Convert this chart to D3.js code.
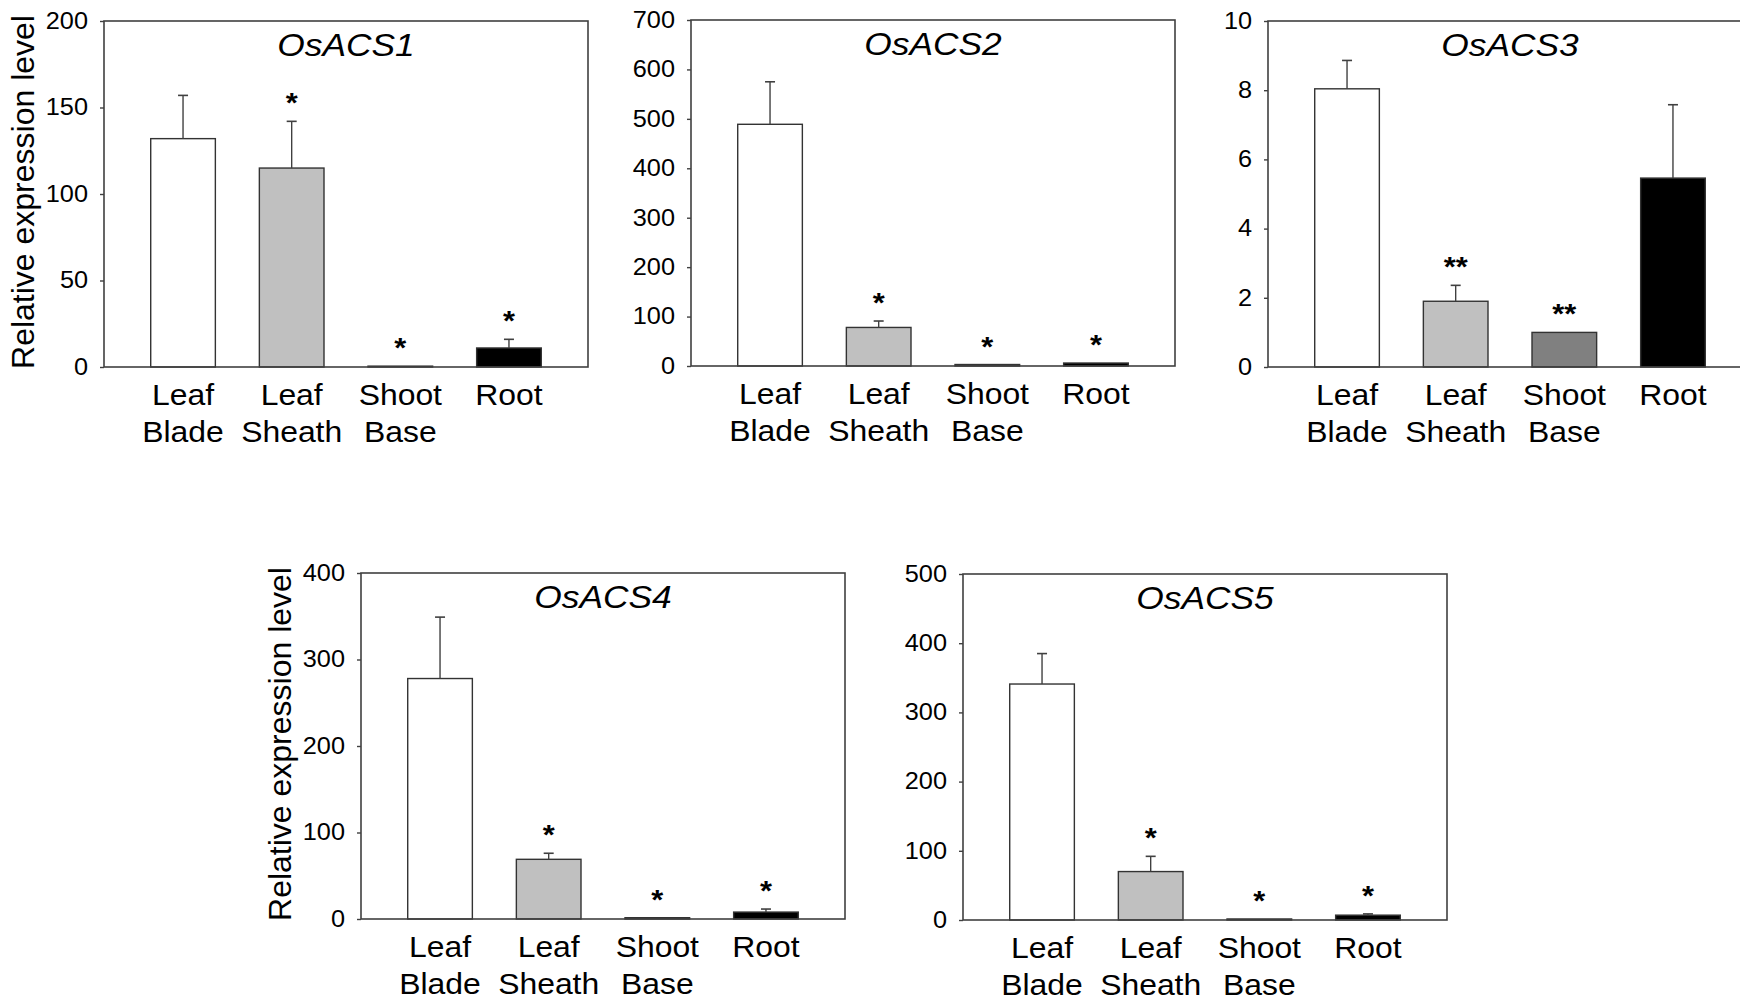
<!DOCTYPE html>
<html>
<head>
<meta charset="utf-8">
<script src="https://cdn.jsdelivr.net/npm/d3@7"></script>
<style>
  body { margin: 0; background: #fff; }
  text { font-family: "Liberation Sans", Arial, sans-serif; fill: #000; }
</style>
</head>
<body>
<script>
// tissues on the x axis, label lines as printed
const categories = ["Leaf Blade", "Leaf Sheath", "Shoot Base", "Root"];
const categoryLines = [["Leaf", "Blade"], ["Leaf", "Sheath"], ["Shoot", "Base"], ["Root"]];
const barColors = ["#ffffff", "#c0c0c0", "#808080", "#000000"];

const genes = ["OsACS1", "OsACS2", "OsACS3", "OsACS4", "OsACS5"];

// means and upper error (SD)
const acs1Means = [132, 115, 0.5, 11];
const acs1Errors = [25, 27, 0, 5];
const acs1Stars = ["", "*", "*", "*"];
const acs1Ticks = [0, 50, 100, 150, 200];

const acs2Means = [489, 78, 3, 6];
const acs2Errors = [86, 13, 0, 0];
const acs2Stars = ["", "*", "*", "*"];
const acs2Ticks = [0, 100, 200, 300, 400, 500, 600, 700];

const acs3Means = [8.04, 1.9, 1.0, 5.46];
const acs3Errors = [0.82, 0.46, 0, 2.12];
const acs3Stars = ["", "**", "**", ""];
const acs3Ticks = [0, 2, 4, 6, 8, 10];

const acs4Means = [278, 69, 1.5, 8];
const acs4Errors = [71, 7, 0, 3.5];
const acs4Stars = ["", "*", "*", "*"];
const acs4Ticks = [0, 100, 200, 300, 400];

const acs5Means = [341, 70, 1.5, 7];
const acs5Errors = [44, 22, 0, 1.8];
const acs5Stars = ["", "*", "*", "*"];
const acs5Ticks = [0, 100, 200, 300, 400, 500];

const yLabel = "Relative expression level";

// panel placement on the page
let W = 484, H = 346;
let SX = 1.1; // the source figure's lettering is a bit wider than plain Arial
let panels = [
  { gene: genes[0], means: acs1Means, errs: acs1Errors, stars: acs1Stars, ticks: acs1Ticks, x: 104, y: 21, ylab: true },
  { gene: genes[1], means: acs2Means, errs: acs2Errors, stars: acs2Stars, ticks: acs2Ticks, x: 691, y: 20, ylab: false },
  { gene: genes[2], means: acs3Means, errs: acs3Errors, stars: acs3Stars, ticks: acs3Ticks, x: 1268, y: 21, ylab: false },
  { gene: genes[3], means: acs4Means, errs: acs4Errors, stars: acs4Stars, ticks: acs4Ticks, x: 361, y: 573, ylab: true },
  { gene: genes[4], means: acs5Means, errs: acs5Errors, stars: acs5Stars, ticks: acs5Ticks, x: 963, y: 574, ylab: false }
];

let svg = d3.select("body")
  .append("svg")
  .attr("width", 1740)
  .attr("height", 1000);

panels.forEach(function (p) {
  let g = svg.append("g").attr("transform", "translate(" + p.x + "," + p.y + ")");

  let x = d3.scaleBand()
    .domain(categories)
    .range([0, W])
    .paddingInner(0.405)
    .paddingOuter(0.43);

  let y = d3.scaleLinear()
    .domain([0, p.ticks[p.ticks.length - 1]])
    .range([H, 0]);

  let cx = d => x(d.cat) + x.bandwidth() / 2;

  let rows = categories.map(function (c, i) {
    return { cat: c, v: p.means[i], e: p.errs[i], star: p.stars[i], color: barColors[i], lines: categoryLines[i] };
  });

  // bars
  g.selectAll("rect.bar")
    .data(rows)
    .enter()
    .append("rect")
    .attr("class", "bar")
    .attr("x", d => x(d.cat))
    .attr("y", d => y(d.v))
    .attr("width", x.bandwidth())
    .attr("height", d => H - y(d.v))
    .attr("fill", d => d.color)
    .attr("stroke", "#333")
    .attr("stroke-width", 1.4);

  // error bars (upper only)
  let eb = g.selectAll("g.err")
    .data(rows.filter(d => d.e > 0))
    .enter()
    .append("g")
    .attr("class", "err");
  eb.append("line")
    .attr("x1", cx)
    .attr("x2", cx)
    .attr("y1", d => y(d.v))
    .attr("y2", d => y(d.v + d.e))
    .attr("stroke", "#404040")
    .attr("stroke-width", 1.4);
  eb.append("line")
    .attr("x1", d => cx(d) - 5)
    .attr("x2", d => cx(d) + 5)
    .attr("y1", d => y(d.v + d.e))
    .attr("y2", d => y(d.v + d.e))
    .attr("stroke", "#404040")
    .attr("stroke-width", 1.6);

  // significance marks
  g.selectAll("text.star")
    .data(rows.filter(d => d.star !== ""))
    .enter()
    .append("text")
    .attr("class", "star")
    .attr("transform", d => "translate(" + cx(d) + "," + (y(d.v + d.e) - 9) + ") scale(" + SX + ",1)")
    .attr("text-anchor", "middle")
    .style("font-size", "28px")
    .style("font-weight", "bold")
    .text(d => d.star);

  // frame
  g.append("rect")
    .attr("width", W)
    .attr("height", H)
    .attr("fill", "none")
    .attr("stroke", "#404040")
    .attr("stroke-width", 1.6);

  // y axis
  let ax = g.append("g").call(
    d3.axisLeft(y).tickValues(p.ticks).tickSize(4).tickPadding(13)
  );
  ax.select(".domain").remove();
  ax.selectAll(".tick line").attr("stroke", "#404040").attr("stroke-width", 1.4);
  ax.selectAll(".tick text")
    .attr("x", 0)
    .attr("transform", "translate(-16,0) scale(" + SX + ",1)")
    .style("font-size", "23px")
    .style("font-family", "'Liberation Sans', Arial, sans-serif")
    .attr("fill", "#000");

  // category labels
  let cl = g.selectAll("text.cat")
    .data(rows)
    .enter()
    .append("text")
    .attr("class", "cat")
    .attr("transform", d => "translate(" + cx(d) + "," + H + ") scale(" + SX + ",1)")
    .attr("text-anchor", "middle")
    .style("font-size", "29px");
  cl.selectAll("tspan")
    .data(d => d.lines)
    .enter()
    .append("tspan")
    .attr("x", 0)
    .attr("y", (d, i) => 38 + i * 37)
    .text(d => d);

  // gene title
  g.append("text")
    .attr("transform", "translate(" + (W / 2) + ",35) scale(" + (SX + 0.04) + ",1)")
    .attr("text-anchor", "middle")
    .style("font-size", "31px")
    .style("font-style", "italic")
    .text(p.gene);

  if (p.ylab) {
    g.append("text")
      .attr("transform", "translate(-70," + (H / 2 - 2) + ") rotate(-90)")
      .attr("text-anchor", "middle")
      .style("font-size", "32px")
      .text(yLabel);
  }
});
</script>
</body>
</html>
